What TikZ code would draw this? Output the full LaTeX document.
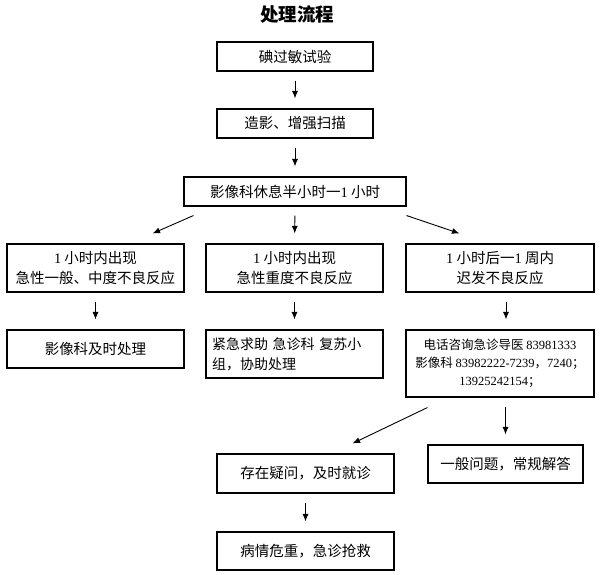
\documentclass[tikz,border=0pt]{standalone}
\usepackage{fontspec}
\setmainfont{Liberation Serif}
\newfontfamily\cjk{Noto Sans CJK SC}
\usetikzlibrary{arrows.meta}
\newcommand\dg[1]{{\rmfamily #1}}

\begin{document}
\begin{tikzpicture}[x=1pt,y=-1pt,
    box/.style = {draw,
        line width=1.1pt,
        inner sep=2pt,
        align=center,
        font=\cjk\fontsize{14.5}{20}\selectfont},
    arr/.style = {-{Latex[length=7.5pt,width=6pt]},
        line width=0.9pt,
        shorten <=9pt, shorten >=10pt},
    diag/.style = {-{Latex[length=7.5pt,width=6pt]},
        line width=0.9pt}]

\useasboundingbox (0,0) rectangle (600,575);

% Title
\node[font=\cjk\bfseries\fontsize{18.5}{20}\selectfont] (title) at (297,15) {处理流程};

% Test
\node[box,minimum width=156pt,minimum height=29pt] (test) at (295,56.5) {碘过敏试验};

% Scan
\node[box,minimum width=156pt,minimum height=29pt] (scan) at (295,123.5) {造影、增强扫描};

% Rest
\node[box,minimum width=222pt,minimum height=29pt] (rest) at (295,191.5) {影像科休息半小时一\dg{1} 小时};

% Reactions
\node[box,minimum width=177pt,minimum height=48pt] (early1) at (95.5,268) {\dg{1} 小时内出现\\急性一般、中度不良反应};
\node[box,minimum width=177pt,minimum height=48pt] (severe1) at (294.5,268) {\dg{1} 小时内出现\\急性重度不良反应};
\node[box,minimum width=188pt,minimum height=48pt] (late1) at (500,268) {\dg{1} 小时后一\dg{1} 周内\\迟发不良反应};

% Handling
\node[box,minimum width=177pt,minimum height=38pt] (early2) at (95.5,349) {影像科及时处理};
\node[box,minimum width=177pt,minimum height=48pt,text width=165pt,inner xsep=6pt,align=left,
    font=\cjk\fontsize{14}{20}\selectfont] (severe2) at (294.5,354) {紧急求助 急诊科 复苏小\\组，协助处理};
\node[box,minimum width=188pt,minimum height=67pt,font=\cjk\fontsize{12.5}{18}\selectfont] (late2) at (500,363.5)
    {电话咨询急诊导医 \dg{83981333}\\影像科 \dg{83982222-7239}，\dg{7240}；\\\dg{13925242154}；};

% Follow-up
\node[box,minimum width=177pt,minimum height=39pt] (doubt) at (305.5,473.5) {存在疑问，及时就诊};
\node[box,minimum width=155pt,minimum height=38pt] (routine) at (505.5,464) {一般问题，常规解答};
\node[box,minimum width=177pt,minimum height=38pt] (rescue) at (305.5,551) {病情危重，急诊抢救};

% Arrows
\draw[arr] (test) -- (scan);
\draw[arr] (scan) -- (rest);
\draw[arr] (rest) -- (severe1);
\draw[diag] ([xshift=10pt,yshift=-9pt]rest.south west) -- ([xshift=-32pt,yshift=10pt]early1.north east);
\draw[diag] ([yshift=-9pt]rest.south east) -- ([xshift=54pt,yshift=10pt]late1.north west);
\draw[arr] (early1) -- (early2);
\draw[arr] (severe1) -- (severe2);
\draw[arr] ([xshift=6pt]late1.south) -- ([xshift=6pt]late2.north);
\draw[diag] ([xshift=22pt,yshift=-10pt]late2.south west) -- ([xshift=-42pt,yshift=10pt]doubt.north east);
\draw[arr] (routine.north |- late2.south) -- (routine.north);
\draw[arr] (doubt) -- (rescue);
\end{tikzpicture}
\end{document}
